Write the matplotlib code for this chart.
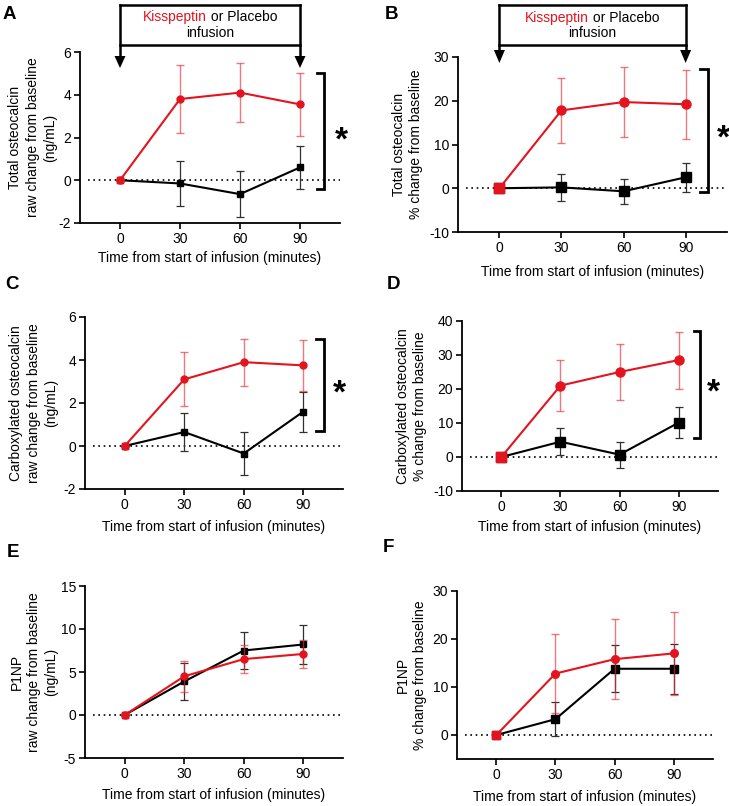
import matplotlib
matplotlib.use("Agg")
import matplotlib.pyplot as plt
from matplotlib.transforms import blended_transform_factory, offset_copy
from matplotlib.lines import Line2D
from matplotlib.patches import Polygon

plt.rcParams['font.family'] = ['Liberation Sans', 'DejaVu Sans']
plt.rcParams['font.size'] = 10
plt.rcParams['axes.unicode_minus'] = False

# ---------------- data ----------------
time = [0, 30, 60, 90]

A_kp = [0, 3.8, 4.1, 3.55]
A_kp_err = [0, 1.6, 1.38, 1.48]
A_pl = [0, -0.15, -0.65, 0.6]
A_pl_err = [0, 1.05, 1.08, 1.0]

B_kp = [0, 17.8, 19.7, 19.2]
B_kp_err = [0, 7.5, 8.0, 7.85]
B_pl = [0, 0.2, -0.7, 2.5]
B_pl_err = [0, 3.1, 2.8, 3.3]

C_kp = [0, 3.1, 3.9, 3.75]
C_kp_err = [0, 1.25, 1.1, 1.2]
C_pl = [0, 0.65, -0.35, 1.6]
C_pl_err = [0, 0.9, 0.98, 0.93]

D_kp = [0, 21.0, 25.0, 28.5]
D_kp_err = [0, 7.5, 8.3, 8.4]
D_pl = [0, 4.5, 0.7, 10.1]
D_pl_err = [0, 4.0, 3.8, 4.6]

E_kp = [0, 4.5, 6.5, 7.1]
E_kp_err = [0, 1.8, 1.6, 1.6]
E_pl = [0, 3.9, 7.5, 8.2]
E_pl_err = [0, 2.15, 2.15, 2.25]

F_kp = [0, 12.8, 15.8, 17.0]
F_kp_err = [0, 8.2, 8.3, 8.65]
F_pl = [0, 3.3, 13.8, 13.8]
F_pl_err = [0, 3.5, 4.85, 5.25]

xticks = [0, 30, 60, 90]
xlabel = "Time from start of infusion (minutes)"

RED = '#e3141e'
W, H = 729, 806
fig = plt.figure(figsize=(W / 100, H / 100), dpi=100)


def pos(l, r, t, b):
    return [l / W, 1 - b / H, (r - l) / W, (b - t) / H]


panels = [
    dict(letter='A', box=(80, 340, 52, 223), ylim=(-2, 6), yticks=[-2, 0, 2, 4, 6],
         kp=A_kp, kpe=A_kp_err, pl=A_pl, ple=A_pl_err, ms=5,
         ylabel="Total osteocalcin\nraw change from baseline\n(ng/mL)", ylx=-23, xly=28,
         let=(3, 6), br=(102, 98.5, 5.0, -0.4), star=(110.5, 2.1), infusion=(5, 45, 56, 68, 17, 33)),
    dict(letter='B', box=(458, 727, 57, 232), ylim=(-10, 30), yticks=[-10, 0, 10, 20, 30],
         kp=B_kp, kpe=B_kp_err, pl=B_pl, ple=B_pl_err, ms=6.5,
         ylabel="Total osteocalcin\n% change from baseline", ylx=-35, xly=33,
         let=(385, 6), br=(100.7, 96.8, 27.3, -0.8), star=(108.3, 12.6), infusion=(5, 45, 50, 63, 18, 33)),
    dict(letter='C', box=(85, 343, 317, 489), ylim=(-2, 6), yticks=[-2, 0, 2, 4, 6],
         kp=C_kp, kpe=C_kp_err, pl=C_pl, ple=C_pl_err, ms=5,
         ylabel="Carboxylated osteocalcin\nraw change from baseline\n(ng/mL)", ylx=-27, xly=31,
         let=(5, 276), br=(100.5, 96.5, 5.0, 0.7), star=(108, 2.7), infusion=None),
    dict(letter='D', box=(462, 718, 321, 491), ylim=(-10, 40), yticks=[-10, 0, 10, 20, 30, 40],
         kp=D_kp, kpe=D_kp_err, pl=D_pl, ple=D_pl_err, ms=6.5,
         ylabel="Carboxylated osteocalcin\n% change from baseline", ylx=-35, xly=29,
         let=(387, 276), br=(101, 97.6, 37.0, 5.5), star=(107.7, 20.6), infusion=None),
    dict(letter='E', box=(85, 343, 586, 758), ylim=(-5, 15), yticks=[-5, 0, 5, 10, 15],
         kp=E_kp, kpe=E_kp_err, pl=E_pl, ple=E_pl_err, ms=5,
         ylabel="P1NP\nraw change from baseline\n(ng/mL)", ylx=-27, xly=30,
         let=(7, 544), br=None, star=None, infusion=None),
    dict(letter='F', box=(457, 713, 591, 759), ylim=(-5, 30), yticks=[0, 10, 20, 30],
         kp=F_kp, kpe=F_kp_err, pl=F_pl, ple=F_pl_err, ms=5.5,
         ylabel="P1NP\n% change from baseline", ylx=-30, xly=31,
         let=(383, 539), br=None, star=None, infusion=None),
]

renderer = fig.canvas.get_renderer()

for p in panels:
    l, r, t, b = p['box']
    ax = fig.add_axes(pos(l, r, t, b))
    ax.set_xlim(-20, 110)
    ax.set_ylim(*p['ylim'])
    ax.set_xticks(xticks)
    ax.set_yticks(p['yticks'])
    for s in ['top', 'right']:
        ax.spines[s].set_visible(False)
    for s in ['left', 'bottom']:
        ax.spines[s].set_linewidth(1.3)
    ax.tick_params(direction='out', length=4.3, width=1.2, pad=2, labelsize=10,
                   colors='black')
    ax.axhline(0, xmin=0.03, xmax=1, color='black', lw=1.2, ls=(0, (1, 2.2)), zorder=1)

    ax.errorbar(time, p['pl'], yerr=p['ple'], color='black', ecolor='#303030',
                elinewidth=0.9, capsize=3, capthick=0.9, lw=1.5, marker='s',
                ms=p['ms'], zorder=3)
    ax.errorbar(time, p['kp'], yerr=p['kpe'], color=RED, ecolor=(0.89, 0.2, 0.22, 0.65),
                elinewidth=1.0, capsize=3, capthick=1.0, lw=1.5, marker='o',
                ms=p['ms'], zorder=4)
    ax.plot(time[:1], p['kp'][:1], marker='s', color=RED, ms=p['ms'], zorder=5, ls='none')

    ax.set_ylabel(p['ylabel'], fontsize=10, linespacing=1.3)
    ax.yaxis.set_label_coords(p['ylx'] / (r - l), 0.5)
    ax.set_xlabel(xlabel, fontsize=10)
    ax.xaxis.set_label_coords(0.5, -p['xly'] / (b - t))

    lx, ly = p['let']
    fig.text(lx / W, 1 - ly / H, p['letter'], fontsize=13.5, fontweight='bold',
             ha='left', va='top')

    if p['br'] is not None:
        bx, bl, btop, bbot = p['br']
        ax.plot([bl, bx, bx, bl], [btop, btop, bbot, bbot], color='black', lw=2.0,
                clip_on=False, solid_joinstyle='miter')
        sx, sy = p['star']
        ax.text(sx, sy, '*', fontsize=24, fontweight='bold', ha='center', va='center',
                clip_on=False, transform=offset_copy(ax.transData, fig, y=-6, units='dots'))

    if p['infusion'] is not None:
        ytop, ybot, ytri, ytip, yl1, yl2 = p['infusion']
        tr = blended_transform_factory(ax.transData, fig.transFigure)
        fy = lambda py: 1 - py / H
        for xx in [0, 90]:
            fig.add_artist(Line2D([xx, xx], [fy(ytop), fy(ytri)], transform=tr,
                                  color='black', lw=1.8))
        fig.add_artist(Line2D([0, 90], [fy(ytop), fy(ytop)], transform=tr, color='black', lw=1.8))
        fig.add_artist(Line2D([0, 90], [fy(ybot), fy(ybot)], transform=tr, color='black', lw=1.8))
        for xx in [0, 90]:
            base = ax.transData.transform((xx, 0))[0]
            xs = [(base - 5.5) / W, (base + 5.5) / W, base / W]
            ys = [fy(ytri), fy(ytri), fy(ytip)]
            fig.add_artist(Polygon(list(zip(xs, ys)), closed=True, color='black',
                                   transform=fig.transFigure, lw=0))
        # text
        cx = ax.transData.transform((45, 0))[0]
        t1 = fig.text(0, 0, 'Kisspeptin', fontsize=10)
        t2 = fig.text(0, 0, ' or Placebo', fontsize=10)
        w1 = t1.get_window_extent(renderer).width
        w2 = t2.get_window_extent(renderer).width
        x0 = cx - (w1 + w2) / 2
        t1.set_position((x0 / W, fy(yl1)))
        t1.set_color(RED)
        t1.set_va('center')
        t2.set_position(((x0 + w1) / W, fy(yl1)))
        t2.set_va('center')
        fig.text(cx / W, fy(yl2), 'infusion', fontsize=10, ha='center', va='center')

fig.savefig('out.png', dpi=100)
